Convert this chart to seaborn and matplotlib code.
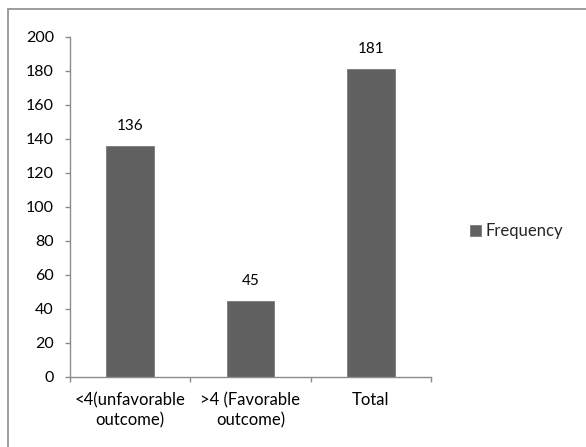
import matplotlib
matplotlib.use("Agg")
import matplotlib.pyplot as plt
import seaborn as sns
import pandas as pd
from matplotlib.patches import Rectangle

# data
categories = ["<4(unfavorable\noutcome)", ">4 (Favorable\noutcome)", "Total"]
frequency = [136, 45, 181]
series_name = "Frequency"
y_ticks = list(range(0, 201, 20))

df = pd.DataFrame({"category": categories, "value": frequency, "series": series_name})

sns.set_style("white")
plt.rcParams["font.family"] = ["Lato", "DejaVu Sans"]

W, H = 586, 447
fig = plt.figure(figsize=(W / 100, H / 100), dpi=100)
# plot area: x 70..431 px, y 37..377 px
ax = fig.add_axes([70 / W, 1 - 377 / H, 361 / W, 340 / H])

bar_color = "#616161"
sns.barplot(data=df, x="category", y="value", hue="series", palette=[bar_color],
            width=0.395, edgecolor="#7a7a7a", linewidth=0.6, ax=ax)

# value labels above bars
for i, v in enumerate(frequency):
    ax.annotate(str(v), (i, v), xytext=(0, 11.5), textcoords="offset points",
                ha="center", va="baseline", fontsize=11, color="#000000")

ax.set_ylim(0, 200)
ax.set_yticks(y_ticks)
ax.set_xlim(-0.5, 2.5)
ax.set_xlabel("")
ax.set_ylabel("")

# axis lines like the spreadsheet style
for s in ["top", "right"]:
    ax.spines[s].set_visible(False)
for s in ["left", "bottom"]:
    ax.spines[s].set_color("#8c8c8c")
    ax.spines[s].set_linewidth(1.0)

# outward tick marks: y at values, x at category boundaries
ax.set_xticks([0, 1, 2])
ax.set_xticks([-0.5, 0.5, 1.5, 2.5], minor=True)
ax.tick_params(axis="y", which="major", left=True, length=3.6, width=1,
               direction="out", color="#8c8c8c", pad=8, labelsize=11.5, labelcolor="#000000")
ax.tick_params(axis="x", which="minor", bottom=True, length=3.6, width=1,
               direction="out", color="#8c8c8c")
ax.tick_params(axis="x", which="major", bottom=False, length=0, pad=11,
               labelsize=12, labelcolor="#000000")
for lbl in ax.get_xticklabels():
    lbl.set_linespacing(1.3)

ax.legend(loc="center left", bbox_to_anchor=(470 / W, 1 - 231 / H),
          bbox_transform=fig.transFigure, frameon=False, fontsize=12,
          handlelength=0.65, handleheight=0.65, handletextpad=0.3,
          borderpad=0, borderaxespad=0)

# chart border (right/bottom fall outside the image)
fig.add_artist(Rectangle((7.5 / W, -0.05), 1.1, 1 - 9 / H + 0.05,
                         transform=fig.transFigure, fill=False,
                         edgecolor="#8c8c8c", linewidth=1.2))

fig.savefig("out.png", dpi=100)
